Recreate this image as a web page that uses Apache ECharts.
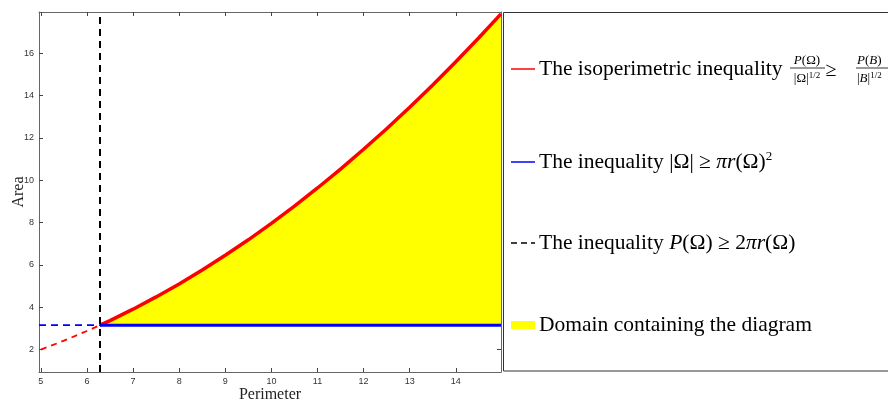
<!DOCTYPE html>
<html>
<head>
<meta charset="utf-8">
<script src="https://cdn.jsdelivr.net/npm/echarts@6/dist/echarts.min.js"></script>
<style>
  html, body { margin: 0; padding: 0; background: #fff; }
  #chart { width: 888px; height: 401px; }
</style>
</head>
<body>
<div id="chart"></div>
<script>
// values
const perimeterLow = [5, 5.5, 6, 6.283];
const areaLow = [1.99, 2.41, 2.87, 3.142];
const perimeterHigh = [6.283, 6.5, 7, 7.5, 8, 8.5, 9, 9.5, 10, 10.5, 11, 11.5, 12, 12.5, 13, 13.5, 14, 14.5, 14.98];
const areaHigh = [3.142, 3.36, 3.9, 4.48, 5.09, 5.75, 6.45, 7.18, 7.96, 8.77, 9.63, 10.52, 11.46, 12.43, 13.45, 14.5, 15.6, 16.73, 17.86];
const discLevel = 3.142;   // |Ω| = π r²
const perimeterMin = 6.283; // P = 2π r
const xTicks = [5, 6, 7, 8, 9, 10, 11, 12, 13, 14];
const yTicks = [2, 4, 6, 8, 10, 12, 14, 16];
const xRange = [4.96, 14.98];
const yRange = [0.93, 17.95];

const chart = echarts.init(document.getElementById("chart"));

const serif = "Liberation Serif";
const axisGray = "#666";

const baseX = {
  type: "value",
  min: xRange[0],
  max: xRange[1],
  splitLine: { show: false },
  axisLine: { onZero: false, lineStyle: { color: axisGray, width: 1 } },
  axisTick: { inside: true, length: 4, customValues: xTicks, lineStyle: { color: "#444" } },
};
const baseY = {
  type: "value",
  min: yRange[0],
  max: yRange[1],
  splitLine: { show: false },
  axisLine: { onZero: false, lineStyle: { color: axisGray, width: 1 } },
  axisTick: { inside: true, length: 4, customValues: yTicks, lineStyle: { color: "#444" } },
};

// legend drawn by hand, the box sits right of the plot
const rowRed = 69, rowBlue = 162, rowBlack = 243, rowYellow = 325;
const textX = 539;
const bigSize = 21.5;
const mathRich = {
  i: { fontFamily: serif, fontStyle: "italic", fontSize: bigSize },
  n: { fontFamily: serif, fontSize: bigSize },
  s: { fontFamily: serif, fontSize: 13, padding: [0, 0, 10, 0] },
};
const smallRich = {
  i: { fontFamily: serif, fontStyle: "italic", fontSize: 13 },
  n: { fontFamily: serif, fontSize: 13 },
  s: { fontFamily: serif, fontSize: 9, padding: [0, 0, 6, 0] },
};
const legendText = (x, y, text) => ({
  type: "text", x: x, y: y,
  style: { text: text, rich: mathRich, fontFamily: serif, fontSize: bigSize, fill: "#000", verticalAlign: "middle" },
});
const smallText = (x, y, text, align) => ({
  type: "text", x: x, y: y,
  style: { text: text, rich: smallRich, fontFamily: serif, fontSize: 13, fill: "#000", align: align, verticalAlign: "middle" },
});

const graphics = [
  { type: "rect", shape: { x: 503.5, y: 12.5, width: 400, height: 358.5 }, style: { fill: "none", stroke: "#333", lineWidth: 1 } },
  // red row
  { type: "line", shape: { x1: 511, y1: rowRed, x2: 535, y2: rowRed }, style: { stroke: "#ff0000", lineWidth: 1.5 } },
  legendText(textX, rowRed, "{n|The isoperimetric inequality}"),
  smallText(807, 61, "{i|P}{n|(Ω)}", "center"),
  { type: "line", shape: { x1: 790, y1: 68, x2: 825, y2: 68 }, style: { stroke: "#000", lineWidth: 0.8 } },
  smallText(807, 79, "{n||Ω|}{s|1/2}", "center"),
  { type: "text", x: 831, y: 71, style: { text: "≥", fontFamily: serif, fontSize: 20, fill: "#000", align: "center", verticalAlign: "middle" } },
  smallText(857, 61, "{i|P}{n|(}{i|B}{n|)}", "left"),
  { type: "line", shape: { x1: 856, y1: 68, x2: 892, y2: 68 }, style: { stroke: "#000", lineWidth: 0.8 } },
  smallText(857, 79, "{n||}{i|B}{n||}{s|1/2}", "left"),
  // blue row
  { type: "line", shape: { x1: 511, y1: rowBlue, x2: 535, y2: rowBlue }, style: { stroke: "#0000ff", lineWidth: 1.5 } },
  legendText(textX, rowBlue, "{n|The inequality |Ω| ≥ }{i|πr}{n|(Ω)}{s|2}"),
  // black row
  { type: "line", shape: { x1: 511, y1: rowBlack, x2: 535, y2: rowBlack }, style: { stroke: "#000", lineWidth: 1.5, lineDash: [6, 4] } },
  legendText(textX, rowBlack, "{n|The inequality }{i|P}{n|(Ω) ≥ 2}{i|πr}{n|(Ω)}"),
  // yellow row
  { type: "rect", shape: { x: 511, y: rowYellow - 4, width: 24, height: 8 }, style: { fill: "#ffff00" } },
  legendText(textX, rowYellow, "{n|Domain containing the diagram}"),
];

const option = {
  animation: false,
  grid: { left: 39, right: 387, top: 12, bottom: 29, containLabel: false, outerBoundsMode: "none" },
  xAxis: [
    Object.assign({}, baseX, {
      position: "bottom",
      name: "Perimeter",
      nameLocation: "middle",
      nameGap: 15,
      nameMoveOverlap: false,
      nameTextStyle: { fontFamily: serif, fontSize: 16, color: "#222", verticalAlign: "top" },
      axisLabel: { customValues: xTicks, fontSize: 9, color: "#333", fontFamily: "Liberation Sans", margin: 5 },
    }),
    Object.assign({}, baseX, { position: "top", axisLabel: { show: false } }),
  ],
  yAxis: [
    Object.assign({}, baseY, {
      position: "left",
      name: "Area",
      nameLocation: "middle",
      nameGap: 12,
      nameMoveOverlap: false,
      nameTextStyle: { fontFamily: serif, fontSize: 16, color: "#222" },
      axisLabel: { customValues: yTicks, fontSize: 9, color: "#333", fontFamily: "Liberation Sans", margin: 5 },
    }),
    Object.assign({}, baseY, { position: "right", axisLabel: { show: false } }),
  ],
  series: [
    {
      name: "isoperimetric (extension)",
      type: "line",
      symbol: "none",
      data: perimeterLow.map((p, i) => [p, areaLow[i]]),
      lineStyle: { color: "#ff0000", width: 1.8, type: [6, 5] },
      z: 3,
    },
    {
      name: "isoperimetric",
      type: "line",
      symbol: "none",
      data: perimeterHigh.map((p, i) => [p, areaHigh[i]]),
      lineStyle: { color: "#ff0000", width: 3.5 },
      areaStyle: { color: "#ffff00", opacity: 1, origin: discLevel },
      z: 2,
    },
    {
      name: "disc (extension)",
      type: "line",
      symbol: "none",
      data: [[xRange[0], discLevel], [perimeterMin, discLevel]],
      lineStyle: { color: "#0000ff", width: 1.8, type: [7, 5] },
      z: 3,
    },
    {
      name: "disc",
      type: "line",
      symbol: "none",
      data: [[perimeterMin, discLevel], [xRange[1], discLevel]],
      lineStyle: { color: "#0000ff", width: 3 },
      z: 4,
    },
    {
      name: "perimeter bound",
      type: "line",
      symbol: "none",
      data: [[perimeterMin, yRange[0]], [perimeterMin, yRange[1]]],
      lineStyle: { color: "#000", width: 2, type: [7, 5] },
      z: 5,
    },
  ],
  graphic: graphics,
};

chart.setOption(option);
</script>
</body>
</html>
